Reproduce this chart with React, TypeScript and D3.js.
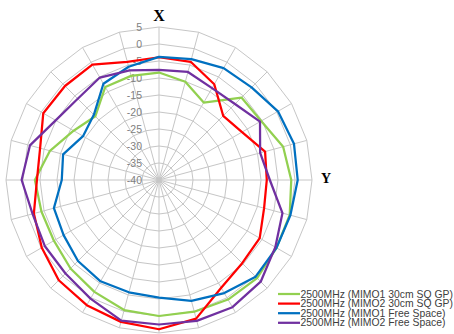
import React from "react";
import * as d3 from "d3";

const angles = [0, 15, 30, 45, 60, 75, 90, 105, 120, 135, 150, 165, 180, 195, 210, 225, 240, 255, 270, 285, 300, 315, 330, 345];
const ticks = [-40, -35, -30, -25, -20, -15, -10, -5, 0, 5];

const mimo1GP = [-8.4, -10.1, -13.7, -5.7, -5.3, -2.2, -1.1, -0.2, -0.1, 0.8, 0.6, 0.1, 0.0, -0.4, -2.0, -3.2, -4.3, -4.2, -3.5, -6.8, -11.0, -13.5, -8.4, -8.3];
const mimo2GP = [-3.9, -4.0, -7.5, -13.3, -11.8, -7.7, -8.3, -8.0, -5.8, -5.4, -3.4, 2.2, 3.9, 3.2, 2.5, 1.7, -0.2, -1.9, -4.1, -3.8, -0.7, -0.9, -0.8, -4.0];
const mimo1FS = [-3.8, -3.2, -2.0, -1.5, 0.4, 1.1, 0.8, 0.0, -0.1, 0.2, -1.6, -3.2, -5.4, -5.8, -5.6, -6.3, -7.6, -8.0, -11.4, -10.8, -14.2, -12.9, -7.3, -5.5];
const mimo2FS = [-7.6, -7.1, -8.8, -8.4, -5.7, -9.2, -7.4, -2.4, -0.5, 2.3, 3.2, 2.9, 2.5, 2.8, 0.3, -1.1, -1.2, -1.5, 0.4, -0.7, -4.9, -6.2, -5.2, -6.6];

const seriesNames = [
  "2500MHz (MIMO1 30cm SQ GP)",
  "2500MHz (MIMO2 30cm SQ GP)",
  "2500MHz (MIMO1 Free Space)",
  "2500MHz (MIMO2 Free Space)",
];
const seriesData = [mimo1GP, mimo2GP, mimo1FS, mimo2FS];
const seriesColors = ["#92d050", "#ff0000", "#0070c0", "#7030a0"];

export default function App() {
  const W = 454, H = 334;
  const cx = 159, cy = 180, R = 153;
  const r = d3.scaleLinear().domain([-40, 5]).range([0, R]);
  const a = d3.scaleLinear().domain([0, 360]).range([0, 2 * Math.PI]);
  const pt = (ang: number, rad: number): [number, number] => [
    cx + rad * Math.sin(a(ang)),
    cy - rad * Math.cos(a(ang)),
  ];
  const ringPath = (v: number) =>
    angles.map((ang, i) => (i === 0 ? "M" : "L") + pt(ang, r(v)).join(",")).join("") + "Z";
  const line = d3
    .lineRadial<number>()
    .angle((_, i) => a(angles[i]))
    .radius((d) => r(d))
    .curve(d3.curveLinearClosed);

  return (
    <svg
      width={W}
      height={H}
      style={{ position: "fixed", left: 0, top: 0, background: "#fff" }}
    >
      <g>
        {ticks.slice(1).map((t) => (
          <path key={t} d={ringPath(t)} fill="none" stroke="#c6c6c6" strokeWidth={1} />
        ))}
        {angles.map((ang) => {
          const [x, y] = pt(ang, r(5));
          return <line key={ang} x1={cx} y1={cy} x2={x} y2={y} stroke="#c6c6c6" strokeWidth={1} />;
        })}
      </g>
      <g fontFamily="'Liberation Sans', Arial, sans-serif" fontSize={10.5} fill="#808080" textAnchor="end">
        {ticks.map((t) => (
          <text key={t} x={cx - 17} y={cy - r(t)} dy="0.35em">
            {t}
          </text>
        ))}
      </g>
      <g transform={`translate(${cx},${cy})`}>
        {seriesData.map((s, i) => (
          <path key={i} d={line(s) || ""} fill="none" stroke={seriesColors[i]} strokeWidth={2.25} strokeLinejoin="round" />
        ))}
      </g>
      <text x={cx} y={21} textAnchor="middle" fontFamily="'Liberation Serif', 'Times New Roman', serif" fontWeight="bold" fontSize={16}>
        X
      </text>
      <text x={326} y={183} textAnchor="middle" fontFamily="'Liberation Serif', 'Times New Roman', serif" fontWeight="bold" fontSize={14}>
        Y
      </text>
      <g fontFamily="'Liberation Sans', Arial, sans-serif" fontSize={10.4} fill="#404040">
        {seriesNames.map((n, i) => {
          const y = 294 + i * 9.6;
          return (
            <g key={n}>
              <line x1={278} x2={300} y1={y} y2={y} stroke={seriesColors[i]} strokeWidth={2.25} />
              <text x={300.5} y={y} dy="0.35em">
                {n}
              </text>
            </g>
          );
        })}
      </g>
    </svg>
  );
}
